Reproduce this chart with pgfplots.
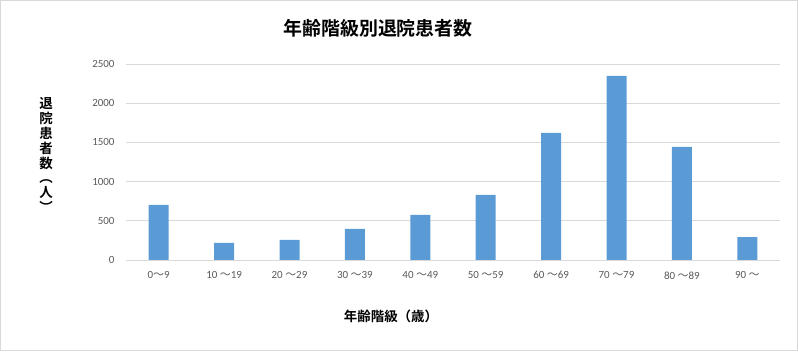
\documentclass[border=0pt]{standalone}
\usepackage{pgfplots}
\pgfplotsset{compat=1.18}
\usepackage{fontspec}
\setmainfont{Carlito}
\newfontfamily\cjk{Noto Sans CJK JP}[BoldFont={Noto Sans CJK JP Bold}]
\definecolor{barblue}{HTML}{5B9BD5}
\definecolor{gridgray}{HTML}{D9D9D9}
\definecolor{ticktxt}{HTML}{595959}
\begin{document}
\begin{tikzpicture}[x=1bp,y=1bp]
\draw[gridgray,line width=1bp] (0.5,0.5) rectangle (797.5,350.5);
\begin{axis}[
  at={(126bp,91bp)}, anchor=south west,
  width=654bp, height=196bp, scale only axis,
  xmin=-0.5, xmax=9.5, ymin=0, ymax=2500,
  axis line style={draw=none},
  ytick={0,500,1000,1500,2000,2500},
  ymajorgrids, grid style={gridgray,line width=0.8bp},
  major tick length=0pt,
  xtick={0,...,9},
  xticklabels={0{\cjk ～}9,10 {\cjk ～}19,20 {\cjk ～}29,30 {\cjk ～}39,40 {\cjk ～}49,50 {\cjk ～}59,60 {\cjk ～}69,70 {\cjk ～}79,80 {\cjk ～}89,90 {\cjk ～}},
  ticklabel style={font=\fontsize{11}{12}\selectfont, text=ticktxt},
  xticklabel style={yshift=-8bp},
  yticklabel style={xshift=-8bp},
  /pgf/number format/assume math mode=true,
  /pgf/number format/1000 sep={},
  clip=false,
]
\addplot[ybar, bar width=20bp, fill=barblue, draw=none] coordinates {
 (0,703) (1,217) (2,256) (3,396) (4,575) (5,830) (6,1622) (7,2348) (8,1442) (9,293)};
\draw[gridgray,line width=0.8bp] (axis cs:-0.5,0) -- (axis cs:9.5,0);
\end{axis}
\node[font=\cjk\bfseries\fontsize{19}{20}\selectfont] at (378,323) {年齢階級別退院患者数};
\node[font=\cjk\bfseries\fontsize{13.5}{14}\selectfont] at (391,35) {年齢階級（歳）};
\node[font=\cjk\bfseries\fontsize{13.5}{15}\selectfont, align=center, inner sep=0pt] at (46,196) {退\\院\\患\\者\\数\\︵\\人\\︶};
\end{tikzpicture}
\end{document}
